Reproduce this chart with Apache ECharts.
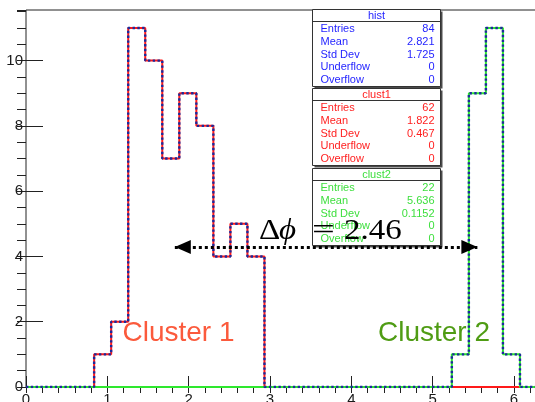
<!DOCTYPE html>
<html>
<head>
<meta charset="utf-8">
<script src="https://cdn.jsdelivr.net/npm/echarts@6/dist/echarts.min.js"></script>
<style>
  html, body { margin: 0; padding: 0; background: #fff; }
  #chart { width: 535px; height: 402px; }
</style>
</head>
<body>
<div id="chart"></div>
<script>
// Azimuthal angle of hits: 30 bins over [0, 2π]
const PHI_MIN = 0;
const PHI_MAX = 2 * Math.PI;
const N_BINS = 30;

// bin contents, bin 0 ... bin 29
const histCounts   = [0,0,0,0,1,2,11,10,7,9,8,4,5,4,0,0,0,0,0,0,0,0,0,0,0,1,9,11,1,0];
const clust1Counts = [0,0,0,0,1,2,11,10,7,9,8,4,5,4,0,0,0,0,0,0,0,0,0,0,0,0,0,0,0,0];
const clust2Counts = [0,0,0,0,0,0,0,0,0,0,0,0,0,0,0,0,0,0,0,0,0,0,0,0,0,1,9,11,1,0];

const xTickLabels = ['0', '1', '2', '3', '4', '5', '6'];
const yTickLabels = ['0', '2', '4', '6', '8', '10'];

// statistics boxes
const statNames   = ['Entries', 'Mean', 'Std Dev', 'Underflow', 'Overflow'];
const histStats   = ['84', '2.821', '1.725', '0', '0'];
const clust1Stats = ['62', '1.822', '0.467', '0', '0'];
const clust2Stats = ['22', '5.636', '0.1152', '0', '0'];

// annotations
const clusterNames = ['Cluster 1', 'Cluster 2'];
const deltaPhiText = '2.46';
const arrowPhi = [1.83, 5.55];
const arrowLevel = 4.29;

const FONT = '"Liberation Sans", Arial, Helvetica, sans-serif';
const SERIF = '"Liberation Serif", "DejaVu Serif", serif';

// outline of a histogram as (edge, content) pairs
function stepOutline(counts) {
  const w = (PHI_MAX - PHI_MIN) / N_BINS;
  const pts = [];
  counts.forEach((c, i) => {
    pts.push([PHI_MIN + i * w, c], [PHI_MIN + (i + 1) * w, c]);
  });
  return pts;
}

const yMax = 1.05 * Math.max(...histCounts);

function statBox(title, values, color, top) {
  const left = 312.5, width = 128, height = 77;
  const font = '11px ' + FONT;
  const children = [
    { type: 'rect', shape: { x: 2, y: 2, width: width, height: height }, style: { fill: '#4a4a4a' } },
    { type: 'rect', shape: { x: 0, y: 0, width: width, height: height }, style: { fill: '#fff', stroke: '#333', lineWidth: 1 } },
    { type: 'line', shape: { x1: 0, y1: 12, x2: width, y2: 12 }, style: { stroke: '#333', lineWidth: 1 } },
    { type: 'text', x: width / 2, y: 6.5, style: { text: title, fill: color, font: font, align: 'center', verticalAlign: 'middle' } }
  ];
  statNames.forEach((name, i) => {
    const y = 19.5 + 12.8 * i;
    children.push({ type: 'text', x: 8, y: y, style: { text: name, fill: color, font: font, align: 'left', verticalAlign: 'middle' } });
    children.push({ type: 'text', x: width - 6, y: y, style: { text: values[i], fill: color, font: font, align: 'right', verticalAlign: 'middle' } });
  });
  return { type: 'group', x: left, y: top, z: 50, children: children };
}

// pieces of the Δϕ label, slightly widened
function latexPiece(text, x, italic, stretch) {
  return {
    type: 'text', x: x, y: 231.5, z: 100, scaleX: stretch,
    style: {
      text: text, fill: '#000', verticalAlign: 'middle', align: 'left',
      font: (italic ? 'italic ' : '') + '30px ' + SERIF
    }
  };
}

const chart = echarts.init(document.getElementById('chart'), null, { renderer: 'canvas' });

const axisCommon = {
  type: 'value',
  splitLine: { show: false },
  axisLine: { show: false }
};

chart.setOption({
  animation: false,
  backgroundColor: '#fff',
  grid: {
    left: 26, right: -2, top: 10, bottom: 15,
    containLabel: false, outerBoundsMode: 'none',
    show: true, borderColor: '#222', borderWidth: 1, backgroundColor: 'transparent'
  },
  xAxis: [
    Object.assign({}, axisCommon, {
      min: PHI_MIN, max: PHI_MAX, interval: 1,
      axisTick: { show: true, inside: true, length: 11, lineStyle: { color: '#222', width: 1 } },
      axisLabel: {
        show: true, margin: 5, color: '#1a1a1a', fontSize: 15, fontFamily: FONT,
        showMaxLabel: false,
        formatter: v => {
          const k = Math.round(v);
          return Math.abs(v - k) < 1e-6 && xTickLabels[k] !== undefined ? xTickLabels[k] : '';
        }
      }
    }),
    Object.assign({}, axisCommon, {
      min: PHI_MIN, max: PHI_MAX, interval: 0.2,
      axisTick: { show: true, inside: true, length: 6, lineStyle: { color: '#222', width: 1 } },
      axisLabel: { show: false }
    })
  ],
  yAxis: [
    Object.assign({}, axisCommon, {
      min: 0, max: yMax, interval: 2,
      axisTick: { show: true, inside: true, length: 17, lineStyle: { color: '#222', width: 1 } },
      axisLabel: {
        show: true, margin: 3, color: '#1a1a1a', fontSize: 15, fontFamily: FONT,
        showMaxLabel: false,
        formatter: v => {
          const k = Math.round(v / 2);
          return Math.abs(v - 2 * k) < 1e-6 && yTickLabels[k] !== undefined ? yTickLabels[k] : '';
        }
      }
    }),
    Object.assign({}, axisCommon, {
      min: 0, max: yMax, interval: 0.5,
      axisTick: { show: true, inside: true, length: 9, lineStyle: { color: '#222', width: 1 } },
      axisLabel: { show: false }
    })
  ],
  series: [
    {
      name: 'clust1', type: 'line', xAxisIndex: 0, yAxisIndex: 0,
      data: stepOutline(clust1Counts), symbol: 'none', z: 2,
      lineStyle: { color: '#ff1a1a', width: 2 }
    },
    {
      name: 'clust2', type: 'line', xAxisIndex: 0, yAxisIndex: 0,
      data: stepOutline(clust2Counts), symbol: 'none', z: 3,
      lineStyle: { color: '#2ee82e', width: 2 }
    },
    {
      name: 'hist', type: 'line', xAxisIndex: 0, yAxisIndex: 0,
      data: stepOutline(histCounts), symbol: 'none', z: 4,
      lineStyle: { color: '#1c2a9c', width: 2.4, type: [2.4, 2.4], cap: 'butt' },
      markLine: {
        silent: true, animation: false,
        symbol: ['triangle', 'triangle'], symbolSize: [14, 16],
        symbolOffset: [[0, 8], [0, 8]],
        lineStyle: { color: '#000', width: 3, type: [3, 3] },
        itemStyle: { color: '#000' },
        label: { show: false },
        emphasis: { disabled: true },
        data: [[{ coord: [arrowPhi[0], arrowLevel] }, { coord: [arrowPhi[1], arrowLevel] }]]
      }
    }
  ],
  graphic: [
    statBox('hist', histStats, '#1f1fff', 9.5),
    statBox('clust1', clust1Stats, '#ff1f1f', 88.5),
    statBox('clust2', clust2Stats, '#3ddf3d', 168.5),
    latexPiece('Δ', 259, false, 1.1),
    latexPiece('ϕ', 279, true, 1.1),
    latexPiece('=', 312, false, 1.35),
    latexPiece(deltaPhiText, 344, false, 1.1),
    {
      type: 'text', x: 122.5, y: 333.5, z: 100,
      style: { text: clusterNames[0], fill: '#fb5a3c', font: '28px ' + FONT, verticalAlign: 'middle' }
    },
    {
      type: 'text', x: 378, y: 333.5, z: 100,
      style: { text: clusterNames[1], fill: '#4f9c14', font: '28px ' + FONT, verticalAlign: 'middle' }
    }
  ]
});
</script>
</body>
</html>
